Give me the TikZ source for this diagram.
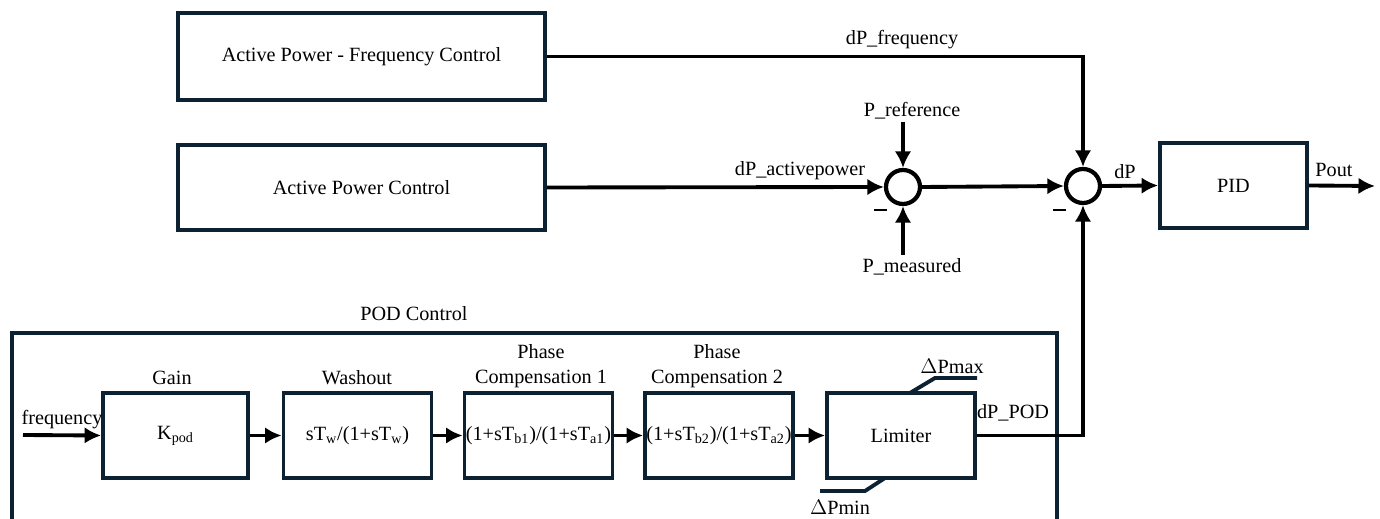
\documentclass[tikz,border=0pt]{standalone}
\usepackage{fontspec}
\setmainfont{Liberation Serif}
\usetikzlibrary{arrows.meta}
\definecolor{navy}{HTML}{0C2233}
\tikzset{blk/.style={draw=navy, line width=2.2pt, minimum width=2.96cm, minimum height=1.7cm, inner sep=0pt},
  sumnode/.style={circle, draw, line width=2.4pt, minimum size=0.68cm, inner sep=0pt},
  sig/.style={->, line width=2.2pt},
  lbl/.style={inner sep=0pt},
  minus/.style={inner sep=0pt, minimum width=0.26cm, minimum height=1.6pt, fill}}

\begin{document}
\begin{tikzpicture}[x=0.02cm, y=-0.02cm, >={Latex[length=3.3mm,width=3.3mm]},
    every node/.style={font=\fontsize{11.5}{14}\selectfont}]
      \useasboundingbox (0,0) rectangle (1380,519);

      % upper controllers and PID
      \node [blk, minimum width=7.34cm, minimum height=1.74cm] (afc) at (361.5,56.5) {Active Power - Frequency Control};
      \node [blk, minimum width=7.34cm, minimum height=1.7cm] (apc) at (361.5,187.5) {Active Power Control};
      \node [sumnode] (sum1) at (903,187) {};
      \node [sumnode] (sum2) at (1083,186) {};
      \node [blk, minimum width=2.94cm, minimum height=1.7cm] (pid) at (1233.5,185.5) {PID};
      \coordinate (pout) at (1375,186);
      \coordinate (pref) at (903,122);
      \coordinate (pmeas) at (903,255);

      \draw [sig] (afc.east) -| (sum2.north);
      \draw [sig] (apc.east) -- (sum1.west);
      \draw [sig] (pref) -- (sum1.north);
      \draw [sig] (pmeas) -- (sum1.south);
      \draw [sig] (sum1.east) -- (sum2.west);
      \draw [sig] (sum2.east) -- (pid.west);
      \draw [sig] (pid.east) -- (pout);

      \node [lbl] at (902,40) {dP\_frequency};
      \node [lbl] at (800,171) {dP\_activepower};
      \node [lbl] at (912,111) {P\_reference};
      \node [lbl] at (912,267) {P\_measured};
      \node [lbl] at (1125,172) {dP};
      \node [lbl] at (1334,170) {Pout};
      \node [minus] at (880,210) {};
      \node [minus] at (1059,210) {};

      % POD chain
      \draw [navy, line width=2.2pt] (12,560) -- (12,333) -- (1057,333) -- (1057,560);
      \node [lbl] at (414,314) {POD Control};

      \node [blk, minimum width=2.9cm] (gain) at (175.5,435.5) {K\textsubscript{pod}};
      \node [blk] (wash) at (357.5,435.5) {sT\textsubscript{w}/(1+sT\textsubscript{w})};
      \node [blk] (pc1) at (538.5,435.5) {(1+sT\textsubscript{b1})/(1+sT\textsubscript{a1})};
      \node [blk] (pc2) at (719,435.5) {(1+sT\textsubscript{b2})/(1+sT\textsubscript{a2})};
      \node [blk] (lim) at (901,435.5) {Limiter};
      \coordinate (fin) at (23,435);

      \node [lbl] at (172,378) {Gain};
      \node [lbl] at (357,378) {Washout};
      \node [lbl, align=center] at (541,366) {Phase\\Compensation 1};
      \node [lbl, align=center] at (717,366) {Phase\\Compensation 2};
      \node [lbl] at (62,420) {frequency};

      \draw [sig] (fin) -- (gain.west);
      \draw [sig] (gain.east) -- (wash.west);
      \draw [sig] (wash.east) -- (pc1.west);
      \draw [sig] (pc1.east) -- (pc2.west);
      \draw [sig] (pc2.east) -- (lim.west);
      \draw [sig] (lim.east) -| (sum2.south);
      \node [lbl] at (1013,413) {dP\_POD};

      % limiter bounds
      \draw [navy, line width=2.2pt] (910,393) -- (935,378) -- (977,378);
      \draw [navy, line width=2.2pt] (885,478) -- (865,491) -- (820,491);
      \node [lbl] at (952,366) {$\Delta$Pmax};
      \node [lbl] at (840,507) {$\Delta$Pmin};
\end{tikzpicture}
\end{document}
